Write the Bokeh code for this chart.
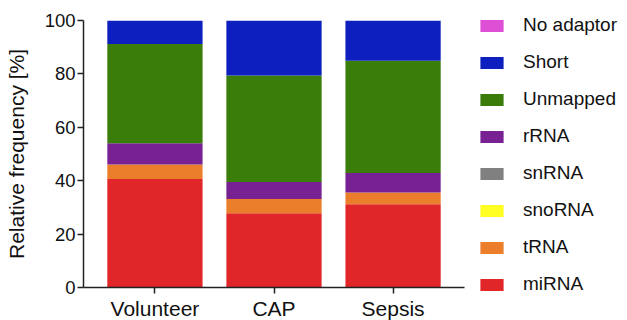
from bokeh.plotting import figure
from bokeh.models import FactorRange, Legend, LegendItem, ColumnDataSource
from bokeh.embed import file_html
from bokeh.resources import INLINE

groups = ["Volunteer", "CAP", "Sepsis"]
categories = ["miRNA", "tRNA", "snoRNA", "snRNA", "rRNA", "Unmapped", "Short", "No adaptor"]
miRNA = [40.6, 27.8, 31.2]
tRNA = [5.5, 5.3, 4.4]
snoRNA = [0.0, 0.0, 0.0]
snRNA = [0.0, 0.0, 0.0]
rRNA = [7.9, 6.4, 7.3]
Unmapped = [37.2, 39.9, 42.0]
Short = [8.8, 20.6, 15.1]
No_adaptor = [0.0, 0.0, 0.0]
y_ticks = [0, 20, 40, 60, 80, 100]

colors = ["#E02629", "#EB7E2B", "#FFFF24", "#808080", "#772192", "#3A7D0B", "#0D1FBE", "#DF4FD6"]

data = {"groups": groups, "miRNA": miRNA, "tRNA": tRNA, "snoRNA": snoRNA, "snRNA": snRNA,
        "rRNA": rRNA, "Unmapped": Unmapped, "Short": Short, "No adaptor": No_adaptor}
source = ColumnDataSource(data)

FONT = "Liberation Sans"

p = figure(x_range=FactorRange(*groups, range_padding=0.1, range_padding_units="absolute"),
           y_range=(0, 100), frame_width=381, frame_height=267, output_backend="svg",
           toolbar_location=None, min_border_left=83, min_border_top=20,
           min_border_bottom=32, min_border_right=0)

renderers = p.vbar_stack(categories, x="groups", width=0.8, color=colors, source=source,
                         line_color=None)

items = [LegendItem(label=c, renderers=[r]) for c, r in zip(categories, renderers)]
items.reverse()
legend = Legend(items=items, location=(13, -8), glyph_width=29, glyph_height=15,
                label_height=20, spacing=15, padding=0, margin=0,
                label_text_font=FONT, label_text_font_size="19px", label_text_color="#111111",
                label_standoff=17, border_line_color=None, background_fill_alpha=0)
p.add_layout(legend, "right")

p.outline_line_color = None
p.xgrid.grid_line_color = None
p.ygrid.grid_line_color = None

p.yaxis.ticker = y_ticks
p.yaxis.axis_label = "Relative frequency [%]"
p.yaxis.axis_label_text_font = FONT
p.yaxis.axis_label_text_font_size = "21px"
p.yaxis.axis_label_text_font_style = "normal"
p.yaxis.axis_label_text_color = "#111111"
p.yaxis.axis_label_standoff = 14
p.yaxis.major_label_text_font = FONT
p.yaxis.major_label_text_font_size = "18.5px"
p.yaxis.major_label_text_color = "#111111"
p.yaxis.major_label_standoff = 2
p.yaxis.minor_tick_line_color = None

p.xaxis.major_label_text_font = FONT
p.xaxis.major_label_text_font_size = "21px"
p.xaxis.major_label_text_color = "#111111"
p.xaxis.major_label_standoff = 3

for ax in (p.xaxis[0], p.yaxis[0]):
    ax.axis_line_color = "#222222"
    ax.axis_line_width = 1.5
    ax.major_tick_line_color = "#222222"
    ax.major_tick_line_width = 1.5
    ax.major_tick_out = 6
    ax.major_tick_in = 0

open("out.html", "w").write(file_html(p, INLINE))
